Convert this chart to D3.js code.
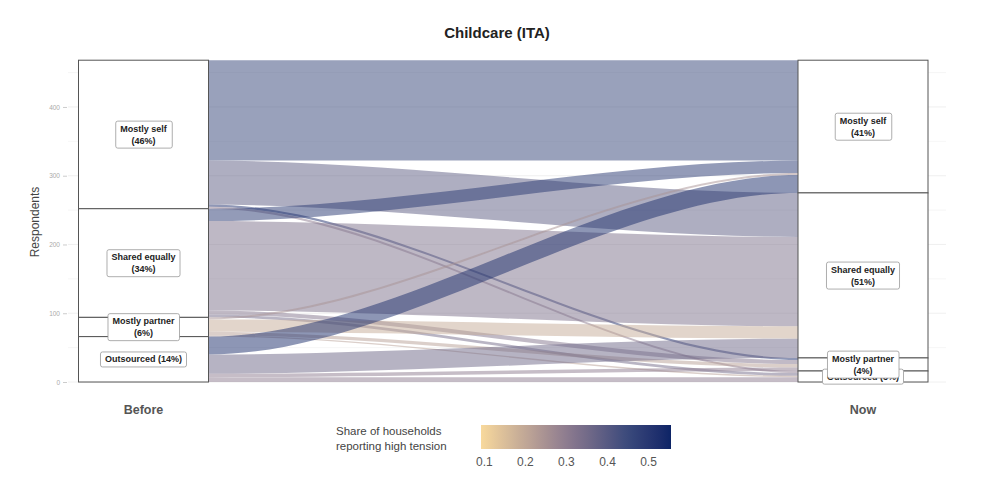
<!DOCTYPE html>
<html><head><meta charset="utf-8">
<script src="https://cdn.jsdelivr.net/npm/d3@7"></script>
<style>
html,body{margin:0;padding:0;background:#fff;}
text{font-family:"Liberation Sans",Arial,sans-serif;}
</style></head>
<body><svg id="c" width="981" height="481"></svg>
<script>
// ---- data ----
const categories = ["Mostly self", "Shared equally", "Mostly partner", "Outsourced"];
const waves = ["Before", "Now"];
// respondents moving from Before category (row) to Now category (column)
const flowCounts = [
  [146, 64, 3, 3],
  [18, 130, 6, 4],
  [3, 18, 5, 2],
  [26, 28, 5, 7]
];
// share of households reporting high tension for each flow
const flowTension = [
  [0.47, 0.39, 0.52, 0.30],
  [0.50, 0.33, 0.32, 0.35],
  [0.25, 0.19, 0.22, 0.22],
  [0.53, 0.36, 0.30, 0.30]
];
const yTicks = [0, 100, 200, 300, 400];
const legendTicks = [0.1, 0.2, 0.3, 0.4, 0.5];
const singleLineLabels = ["Outsourced"];

// ---- setup ----
const svg = d3.select("#c");
const N = d3.sum(flowCounts.flat());
const y = d3.scaleLinear().domain([0, N]).range([382, 60.2]);
const x = d3.scalePoint().domain(waves).range([143.5, 863]);
const stratW = 130;
const color = d3.scaleLinear().domain([0.093, 0.3, 0.45, 0.556])
  .range(["#f8d99c", "#8e7c8f", "#3a4a7c", "#0d2466"]).interpolate(d3.interpolateLab);

// faint gridlines
const grid = svg.append("g");
d3.range(0, N, 50).forEach(v => {
  grid.append("line").attr("x1", 68).attr("x2", 946).attr("y1", y(v)).attr("y2", y(v))
    .attr("stroke", v % 100 === 0 ? "#ececec" : "#f4f4f4").attr("stroke-width", 0.8);
});

// y axis
const yAxis = d3.axisLeft(y).tickValues(yTicks).tickSize(4).tickPadding(3);
const ya = svg.append("g").attr("transform", "translate(67,0)").call(yAxis);
ya.select(".domain").remove();
ya.selectAll(".tick line").attr("stroke", "#ccc");
ya.selectAll(".tick text").attr("fill", "#aaa").attr("font-size", 6.5);
svg.append("text").attr("transform", "translate(39,222) rotate(-90)").attr("text-anchor", "middle")
  .attr("font-size", 12).attr("fill", "#444").text("Respondents");

// stratum positions (stacked top-to-bottom in category order)
const beforeTot = categories.map((c, i) => d3.sum(flowCounts[i]));
const nowTot = categories.map((c, j) => d3.sum(flowCounts, r => r[j]));
function stackTops(tots) { let acc = N; return tots.map(t => { const top = acc; acc -= t; return top; }); }
const beforeTop = stackTops(beforeTot);
const nowTop = stackTops(nowTot);

// flows
const x0 = x("Before") + stratW / 2, x1 = x("Now") - stratW / 2;
const k = 0.32;
const xa = x0 + k * (x1 - x0), xb = x1 - k * (x1 - x0);
const outCursor = beforeTop.slice();
const inCursor = nowTop.slice();
const flows = [];
const inPos = {};
for (let j = 0; j < categories.length; j++) {
  for (let i = 0; i < categories.length; i++) {
    inPos[i + "-" + j] = inCursor[j];
    inCursor[j] -= flowCounts[i][j];
  }
}
for (let i = 0; i < categories.length; i++) {
  for (let j = 0; j < categories.length; j++) {
    const n = flowCounts[i][j];
    const a0 = outCursor[i]; outCursor[i] -= n;
    const b0 = inPos[i + "-" + j];
    flows.push({ i, j, n, a0, a1: a0 - n, b0, b1: b0 - n, t: flowTension[i][j] });
  }
}
const fg = svg.append("g");
fg.selectAll("path").data(flows.filter(f => f.n > 0)).join("path")
  .attr("d", f => {
    const ya0 = y(f.a0), ya1 = y(f.a1), yb0 = y(f.b0), yb1 = y(f.b1);
    return `M${x0},${ya0}C${xa},${ya0} ${xb},${yb0} ${x1},${yb0}L${x1},${yb1}C${xb},${yb1} ${xa},${ya1} ${x0},${ya1}Z`;
  })
  .attr("fill", f => color(f.t)).attr("fill-opacity", 0.5).attr("stroke", "none");

// strata + labels
function drawStrata(wave, tots, tops) {
  const g = svg.append("g");
  const cx = x(wave);
  tots.forEach((t, i) => {
    g.append("rect").attr("x", cx - stratW / 2).attr("y", y(tops[i])).attr("width", stratW)
      .attr("height", y(tops[i] - t) - y(tops[i])).attr("fill", "#fff").attr("stroke", "#555").attr("stroke-width", 1);
  });
  const order = d3.range(tots.length).reverse();
  order.forEach(i => {
    const t = tots[i];
    const pct = Math.round(100 * t / N) + "%";
    const cy = y(tops[i] - t / 2);
    const lines = singleLineLabels.includes(categories[i]) ? [categories[i] + " (" + pct + ")"] : [categories[i], "(" + pct + ")"];
    const lg = g.append("g");
    const fs = 9, lh = 12;
    const txt = lg.append("text").attr("text-anchor", "middle").attr("font-size", fs).attr("font-weight", "bold").attr("fill", "#222");
    lines.forEach((l, li) => {
      txt.append("tspan").attr("x", cx).attr("y", cy + (li - (lines.length - 1) / 2) * lh + fs * 0.35).text(l);
    });
    const bb = txt.node().getBBox();
    lg.insert("rect", "text").attr("x", bb.x - 4.5).attr("y", bb.y - 2.5).attr("width", bb.width + 9).attr("height", bb.height + 5)
      .attr("rx", 2).attr("fill", "#fff").attr("stroke", "#999").attr("stroke-width", 0.8);
  });
}
drawStrata("Before", beforeTot, beforeTop);
drawStrata("Now", nowTot, nowTop);

// x labels
waves.forEach(w => {
  svg.append("text").attr("x", x(w)).attr("y", 414).attr("text-anchor", "middle").attr("font-size", 12.5)
    .attr("font-weight", "bold").attr("fill", "#555").text(w);
});

// title
svg.append("text").attr("x", 497).attr("y", 38).attr("text-anchor", "middle").attr("font-size", 15)
  .attr("font-weight", "bold").attr("fill", "#222").text("Childcare (ITA)");

// legend
const lx = d3.scaleLinear().domain([0.093, 0.556]).range([481, 671]);
const defs = svg.append("defs");
const grad = defs.append("linearGradient").attr("id", "lg").attr("x1", "0%").attr("x2", "100%");
d3.range(0, 1.0001, 0.05).forEach(p => {
  const v = lx.invert(481 + p * 190);
  grad.append("stop").attr("offset", (p * 100) + "%").attr("stop-color", color(v));
});
svg.append("rect").attr("x", 481).attr("y", 425).attr("width", 190).attr("height", 24).attr("fill", "url(#lg)");
const la = svg.append("g").attr("transform", "translate(0,449)").call(d3.axisBottom(lx).tickValues(legendTicks).tickSize(0).tickPadding(8).tickFormat(d3.format(".1f")));
la.select(".domain").remove();
la.selectAll(".tick text").attr("font-size", 12).attr("fill", "#555");
const lt = svg.append("text").attr("font-size", 11.5).attr("fill", "#444");
lt.append("tspan").attr("x", 336).attr("y", 435).text("Share of households");
lt.append("tspan").attr("x", 336).attr("y", 450).text("reporting high tension");
</script>
</body></html>
